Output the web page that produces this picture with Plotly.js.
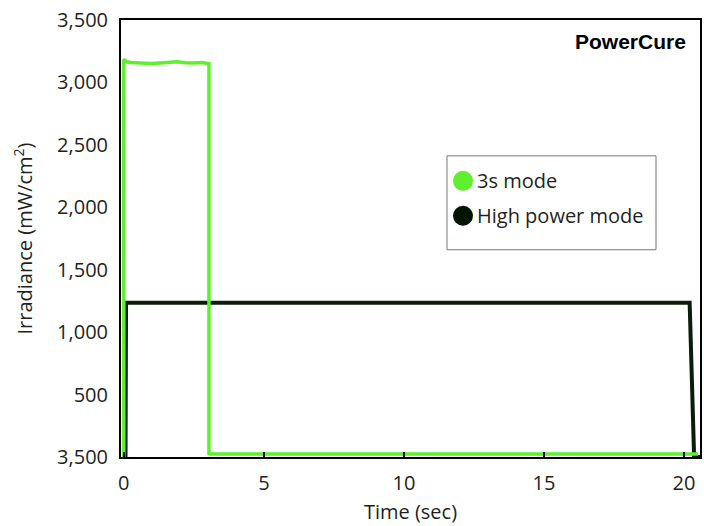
<!DOCTYPE html>
<html>
<head>
<meta charset="utf-8">
<script src="https://cdn.plot.ly/plotly-3.0.1.min.js"></script>
<style>html,body{margin:0;padding:0;background:#fff;}#chart{width:704px;height:526px;}</style>
</head>
<body>
<div id="chart"></div>
<script>
// Data
const seriesNames = ["3s mode", "High power mode"];
const time3s = [0, 0, 0.04, 0.1, 0.25, 0.45, 0.7, 1.0, 1.3, 1.6, 1.9, 2.2, 2.5, 2.8, 3.04, 3.04, 3.1, 20.5];
const irr3s  = [0, 3185, 3178, 3165, 3160, 3156, 3158, 3152, 3156, 3160, 3166, 3158, 3155, 3160, 3150, 28, 25, 25];
const timeHP = [0, 0.06, 0.08, 2, 5, 10, 15, 18, 20.2, 20.36, 20.6];
const irrHP  = [0, 0, 1235, 1236, 1234, 1236, 1235, 1236, 1235, 0, 0];
const yTickVals = [0, 500, 1000, 1500, 2000, 2500, 3000, 3500];
const yTickText = ["3,500", "500", "1,000", "1,500", "2,000", "2,500", "3,000", "3,500"];
const xTickVals = [0, 5, 10, 15, 20];
const xTickText = ["0", "5", "10", "15", "20"];

const colors = ["#5ef02e", "#0a1c0a"];
const legendDot = ["#5ef02e", "#001500"];
const font = "Open Sans, Noto Sans, sans-serif";
const txt = "#231f20";

const traces = [
  {x: timeHP, y: irrHP, mode: "lines", name: seriesNames[1], line: {color: colors[1], width: 4}, showlegend: false, hoverinfo: "skip"},
  {x: time3s, y: irr3s, mode: "lines", name: seriesNames[0], line: {color: colors[0], width: 3.5}, showlegend: false, hoverinfo: "skip"}
];

// manual legend (paper coordinates derived from plot-area pixels)
const L = 121, T = 20, W = 579, H = 437.5;
const px = v => (v - L) / W;
const py = v => (T + H - v) / H;
const legendRows = [181, 216];

const shapes = [
  {type: "rect", xref: "paper", yref: "paper", x0: px(447), x1: px(656), y0: py(250), y1: py(156),
   line: {color: "#777", width: 1}, fillcolor: "#fff", layer: "above"}
];
const annotations = [{
  xref: "paper", yref: "paper", x: px(688), y: py(42), xanchor: "right", yanchor: "middle",
  text: "<b>PowerCure</b>", showarrow: false,
  font: {family: "Liberation Sans, Arial, sans-serif", size: 21, color: "#000"}
}];
seriesNames.forEach((n, i) => {
  shapes.push({type: "circle", xref: "paper", yref: "paper", xsizemode: "pixel", ysizemode: "pixel",
    xanchor: px(463), yanchor: py(legendRows[i]), x0: -10, x1: 10, y0: -10, y1: 10,
    fillcolor: legendDot[i], line: {width: 0}, layer: "above"});
  annotations.push({xref: "paper", yref: "paper", x: px(475), y: py(legendRows[i]),
    xanchor: "left", yanchor: "middle", showarrow: false, text: n,
    font: {family: font, size: 20, color: txt}});
});

const layout = {
  width: 704, height: 526,
  margin: {l: L, r: 704 - L - W, t: T, b: 526 - T - H, pad: 0},
  paper_bgcolor: "#fff", plot_bgcolor: "#fff",
  font: {family: font, size: 20, color: txt},
  showlegend: false,
  xaxis: {
    range: [-0.1, 20.57], tickvals: xTickVals, ticktext: xTickText,
    ticks: "inside", ticklen: 5, tickwidth: 1.5, tickcolor: "#000",
    showline: true, linecolor: "#000", linewidth: 2, mirror: true,
    showgrid: false, zeroline: false, ticklabelstandoff: 7,
    tickfont: {family: font, size: 20, color: txt},
    title: {text: "Time (sec)", font: {family: font, size: 20, color: txt}, standoff: 10}
  },
  xaxis2: {
    range: [-0.1, 20.57], overlaying: "x", anchor: "y", side: "bottom",
    tickvals: xTickVals, showticklabels: false,
    ticks: "outside", ticklen: 5, tickwidth: 1.5, tickcolor: "#000",
    showline: false, showgrid: false, zeroline: false
  },
  yaxis: {
    range: [0, 3500], tickvals: yTickVals, ticktext: yTickText,
    ticks: "", showline: true, linecolor: "#000", linewidth: 2, mirror: true,
    showgrid: false, zeroline: false, ticklabelstandoff: 7,
    tickfont: {family: font, size: 20, color: txt},
    title: {text: "Irradiance (mW/cm<sup>2</sup>)", font: {family: font, size: 20, color: txt}, standoff: 19}
  },
  shapes: shapes,
  annotations: annotations
};

Plotly.newPlot("chart", traces, layout, {displayModeBar: false, staticPlot: true});
</script>
</body>
</html>
